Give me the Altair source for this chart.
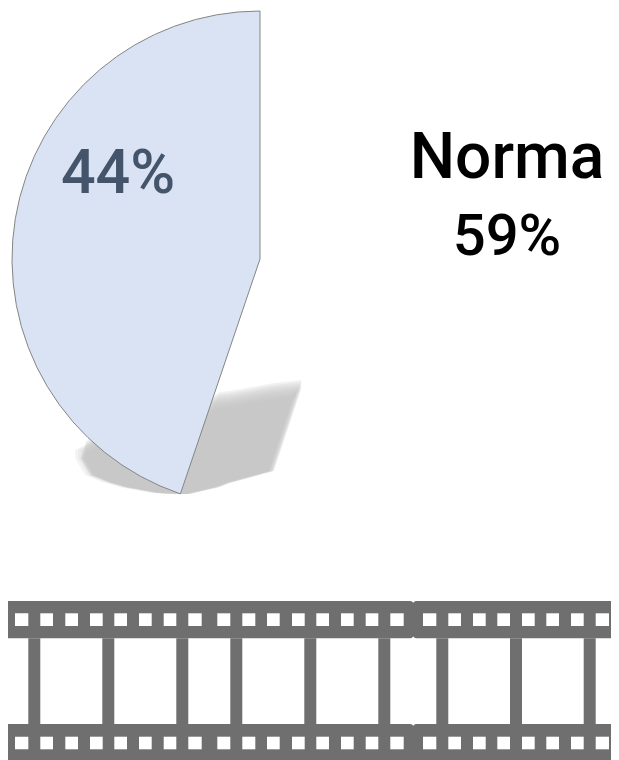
import altair as alt
import pandas as pd

# Pie
slice_names = ["Norma", "Other"]
slice_values = [55.2, 44.8]
slice_fills = ["#ffffff", "#d9e3f3"]
slice_show = [0, 1]

# Shadow outline
shadow_x = [83, 93, 110, 127, 160, 187, 217, 227, 271, 298.3]
shadow_top = [450, 445, 435, 430, 425, 420, 401, 400, 392, 389]
shadow_bottom = [458, 475, 482, 487, 493, 494, 487, 483, 471, 389]

# Film strip
band_left = [3, 412.5]
band_right = [414, 618]
top_band = [601, 638.3]
bottom_band = [724, 766]
row_y = [[613.3, 626], [736.7, 749.3]]
hole_left = [15, 40.3, 65.3, 90, 114.3, 139, 163.7, 188.3, 217.3, 242.3, 267, 292,
             316.3, 341, 365.7, 390.3, 423, 448.3, 473, 497.3, 522, 546.3, 571, 595.7]
hole_right = [28.3, 53, 78, 102.7, 127, 151.7, 176.3, 201.7, 230.3, 255.3, 279.7, 304.7,
              329, 353.7, 378.3, 403.7, 436.3, 461, 485.7, 510, 534.7, 559, 583.7, 609]
bar_left = [28.3, 102.3, 176.3, 230.3, 304.3, 378.3, 436.3, 510, 583.7]
bar_right = [40.3, 114.3, 188.3, 242.3, 316.3, 390.3, 448.3, 522, 595.7]

# Texts
labels = ["44%", "Norma", "59%"]
label_x = [118, 507, 507]
label_y = [193, 178, 255]
label_colors = ["#44546a", "#000000", "#000000"]
label_sizes = [61, 64, 58]

FILM = "#6f6f6f"
W, H = 603, 752
xs = alt.Scale(domain=[8, 611], range=[0, W])
ys = alt.Scale(domain=[8, 760], range=[0, H])
X = lambda f: alt.X(f, type="quantitative", scale=xs, axis=None)
Y = lambda f: alt.Y(f, type="quantitative", scale=ys, axis=None)

layers = []

shadow = pd.DataFrame({"x": shadow_x, "t": shadow_top, "b": shadow_bottom})
for d in [-9, -7, -5, -3, -1, 1, 3, 5, 7, 9]:
    layers.append(
        alt.Chart(shadow).mark_area(color="#c6c6c6", opacity=0.22, xOffset=0.33 * d, yOffset=-d)
        .encode(x=X("x"), y=Y("t"), y2=alt.Y2("b"))
    )
for d in [-8, -5, -2]:
    layers.append(
        alt.Chart(shadow[shadow.x <= 187]).mark_area(color="#c6c6c6", opacity=0.2, xOffset=d)
        .encode(x=X("x"), y=Y("t"), y2=alt.Y2("b"))
    )

pie = pd.DataFrame({"name": slice_names, "v": slice_values, "fill": slice_fills,
                    "cx": [260, 260], "cy": [259, 259], "order": [0, 1],
                    "show": slice_show})
layers.append(
    alt.Chart(pie).mark_arc(radius=248)
    .encode(
        x=X("cx"), y=Y("cy"),
        theta=alt.Theta("v", type="quantitative", stack=True, scale=alt.Scale(domain=[0, 100], range=[0, 6.28318530718])),
        order=alt.Order("order"),
        fill=alt.Fill("fill", type="nominal", scale=None),
        fillOpacity=alt.condition("datum.show == 1", alt.value(1), alt.value(0)),
        stroke=alt.condition("datum.show == 1", alt.value("#858585"), alt.value("transparent")),
        strokeWidth=alt.value(1),
    )
)

bands = pd.DataFrame([
    {"x": l, "x2": r, "y": yy[0], "y2": yy[1]}
    for l, r in zip(band_left, band_right) for yy in (top_band, bottom_band)
])
bars = pd.DataFrame({"x": bar_left, "x2": bar_right, "y": top_band[1], "y2": bottom_band[0]})
holes = pd.DataFrame([
    {"x": l, "x2": r, "y": yy[0], "y2": yy[1]}
    for l, r in zip(hole_left, hole_right) for yy in row_y
])
layers.append(alt.Chart(bars).mark_rect(color=FILM).encode(x=X("x"), x2=alt.X2("x2"), y=Y("y"), y2=alt.Y2("y2")))
layers.append(alt.Chart(bands).mark_rect(color=FILM, cornerRadius=4).encode(x=X("x"), x2=alt.X2("x2"), y=Y("y"), y2=alt.Y2("y2")))
layers.append(alt.Chart(holes).mark_rect(color="#ffffff").encode(x=X("x"), x2=alt.X2("x2"), y=Y("y"), y2=alt.Y2("y2")))

text = pd.DataFrame({"t": labels, "x": label_x, "y": label_y, "c": label_colors, "s": label_sizes})
layers.append(
    alt.Chart(text).mark_text(font="Roboto", fontWeight=500, baseline="alphabetic", align="center")
    .encode(x=X("x"), y=Y("y"), text="t",
            size=alt.Size("s", type="quantitative", scale=None),
            color=alt.Color("c", type="nominal", scale=None))
)

chart = alt.layer(*layers).properties(
    width=W, height=H, padding=0, autosize=alt.AutoSizeParams(type="none"),
).configure_view(stroke=None)

chart.save("out.html", embed_options={"renderer": "svg", "actions": False})
